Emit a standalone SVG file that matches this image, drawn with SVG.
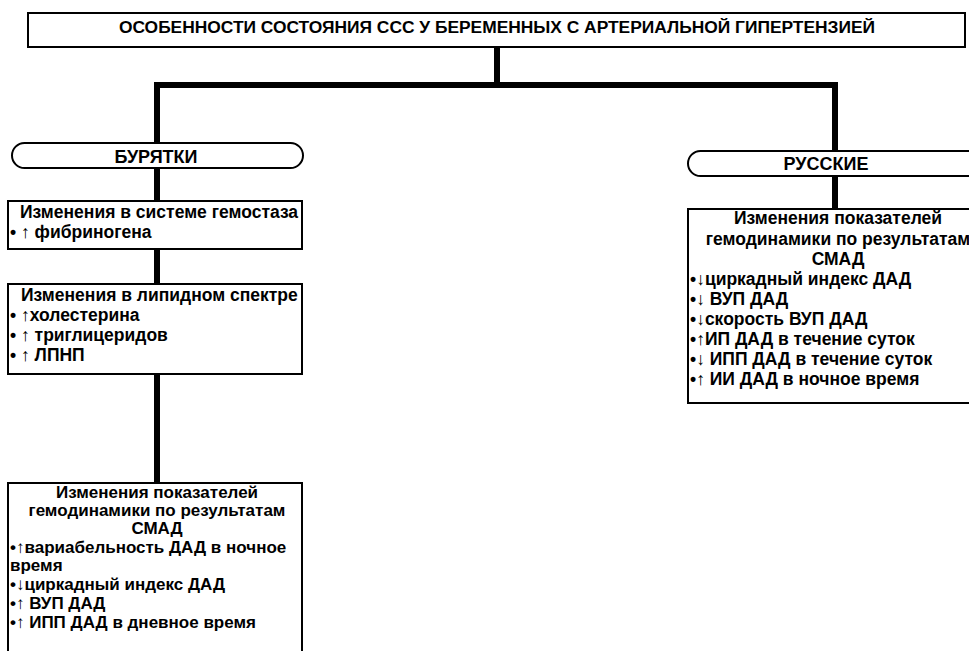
<svg xmlns="http://www.w3.org/2000/svg" width="969" height="651" viewBox="0 0 969 651">
<style>
.box{fill:#fff;stroke:#000;stroke-width:2}
.pill{fill:#fff;stroke:#000;stroke-width:2}
.conn{fill:none;stroke:#000;stroke-width:6;stroke-linecap:square}
text{font-family:"Liberation Sans",Arial,sans-serif;font-weight:bold;font-size:17.5px;fill:#000}
.c{text-anchor:middle}
.title{font-size:16px}
.lbl{font-size:18px}
.s{font-size:17px}
</style>
<rect width="969" height="651" fill="#fff"/>
<g id="connectors">
<path class="conn" d="M497,48 V85 M157,85 H835 M157,85 V142 M835,85 V150 M157,168 V200 M157,249 V283 M157,374 V482 M835,176 V208"/>
</g>
<g id="title">
<rect class="box" x="28" y="13" width="937" height="34"/>
<text class="c title" x="497" y="33" textLength="756" lengthAdjust="spacingAndGlyphs">ОСОБЕННОСТИ СОСТОЯНИЯ ССС У БЕРЕМЕННЫХ С АРТЕРИАЛЬНОЙ ГИПЕРТЕНЗИЕЙ</text>
</g>
<g id="buryatki">
<rect class="pill" x="12" y="143" width="291" height="25" rx="12.5"/>
<text class="c lbl" x="156" y="163">БУРЯТКИ</text>
</g>
<g id="russkie">
<rect class="pill" x="688" y="151" width="320" height="25" rx="12.5"/>
<text class="c lbl" x="826" y="170">РУССКИЕ</text>
</g>
<g id="hemostasis">
<rect class="box" x="8" y="201" width="294" height="48"/>
<text x="20" y="218">Изменения в системе гемостаза</text>
<text x="10" y="238">• ↑ фибриногена</text>
</g>
<g id="lipid">
<rect class="box" x="8" y="284" width="294" height="90"/>
<text x="21" y="301">Изменения в липидном спектре</text>
<text x="10" y="321">• ↑холестерина</text>
<text x="10" y="341">• ↑ триглицеридов</text>
<text x="10" y="361">• ↑ ЛПНП</text>
</g>
<g id="smad-buryatki">
<rect class="box" x="8" y="483" width="294" height="180"/>
<text class="c s" x="157" y="498">Изменения показателей</text>
<text class="c s" x="157" y="516">гемодинамики по результатам</text>
<text class="c s" x="157" y="534">СМАД</text>
<text class="s" x="10" y="553">•↑вариабельность ДАД в ночное</text>
<text class="s" x="10" y="571">время</text>
<text class="s" x="10" y="590">•↓циркадный индекс ДАД</text>
<text class="s" x="10" y="609">•↑ ВУП ДАД</text>
<text class="s" x="10" y="628">•↑ ИПП ДАД в дневное время</text>
</g>
<g id="smad-russkie">
<rect class="box" x="688" y="209" width="320" height="194"/>
<text class="c" x="838" y="224">Изменения показателей</text>
<text class="c" x="838" y="245">гемодинамики по результатам</text>
<text class="c" x="838" y="265">СМАД</text>
<text x="690" y="285">•↓циркадный индекс ДАД</text>
<text x="690" y="305">•↓ ВУП ДАД</text>
<text x="690" y="325">•↓скорость ВУП ДАД</text>
<text x="690" y="345">•↑ИП ДАД в течение суток</text>
<text x="690" y="365">•↓ ИПП ДАД в течение суток</text>
<text x="690" y="385">•↑ ИИ ДАД в ночное время</text>
</g>
</svg>
